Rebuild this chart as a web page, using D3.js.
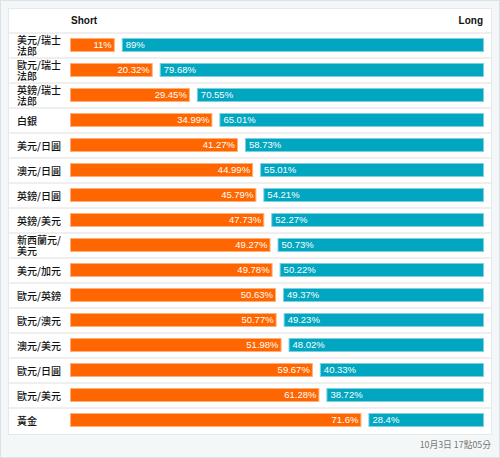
<!DOCTYPE html>
<html>
<head>
<meta charset="utf-8">
<script src="https://cdn.jsdelivr.net/npm/d3@7/dist/d3.min.js"></script>
<style>
  html, body { margin: 0; padding: 0; background: #ffffff; }
  svg { display: block; }
</style>
</head>
<body>
<svg id="chart" width="500" height="458"></svg>
<script>
const categories = ["美元/瑞士法郎","歐元/瑞士法郎","英鎊/瑞士法郎","白銀","美元/日圓","澳元/日圓","英鎊/日圓","英鎊/美元","新西蘭元/美元","美元/加元","歐元/英鎊","歐元/澳元","澳元/美元","歐元/日圓","歐元/美元","黃金"];
const shortPct = [11, 20.32, 29.45, 34.99, 41.27, 44.99, 45.79, 47.73, 49.27, 49.78, 50.63, 50.77, 51.98, 59.67, 61.28, 71.6];
const longPct  = [89, 79.68, 70.55, 65.01, 58.73, 55.01, 54.21, 52.27, 50.73, 50.22, 49.37, 49.23, 48.02, 40.33, 38.72, 28.4];
const headers = ["Short", "Long"];
const timestamp = "10月3日 17點05分";

const rows = categories.map((c, i) => ({ cat: c, s: shortPct[i], l: longPct[i] }));

const svg = d3.select("#chart");
const W = 500, H = 458;
const panel = { x: 8, y: 8, w: 484, h: 427 };
const headerH = 25;
const barX0 = 70, barX1 = 484, gap = 7, barH = 14;
const orange = "#ff6600", teal = "#01a6c0";
const cjk = "'Noto Sans CJK TC', 'Noto Sans CJK SC', sans-serif";
const latin = "Arial, 'Liberation Sans', Helvetica, sans-serif";

// page background
svg.append("rect").attr("x", 0.5).attr("y", 0.5).attr("width", W - 1).attr("height", H - 1)
  .attr("fill", "#f4f7f8").attr("stroke", "#dce3e6");
svg.append("rect").attr("x", panel.x + 0.5).attr("y", panel.y + 0.5).attr("width", panel.w - 1).attr("height", panel.h - 1)
  .attr("fill", "#ffffff").attr("stroke", "#e4e9eb");

const y = d3.scaleBand().domain(d3.range(rows.length))
  .range([panel.y + headerH, panel.y + headerH + 25 * rows.length]).paddingInner(0).paddingOuter(0);
const x = d3.scaleLinear().domain([0, 100]).range([0, (barX1 - barX0) - gap]);

// header
svg.append("text").attr("x", 71).attr("y", 24).attr("font-family", latin).attr("font-size", 10)
  .attr("font-weight", "bold").attr("fill", "#111").text(headers[0]);
svg.append("text").attr("x", 483).attr("y", 24).attr("text-anchor", "end").attr("font-family", latin)
  .attr("font-size", 10).attr("font-weight", "bold").attr("fill", "#111").text(headers[1]);

// separators
svg.append("g").selectAll("rect").data(d3.range(rows.length)).join("rect")
  .attr("x", panel.x + 1).attr("width", panel.w - 2)
  .attr("y", i => y(i) - 1).attr("height", 2).attr("fill", "#efefef");

const g = svg.append("g").selectAll("g").data(rows).join("g")
  .attr("transform", (d, i) => `translate(0,${y(i)})`);

// category labels with wrapping
g.each(function(d) {
  const sel = d3.select(this);
  const t = sel.append("text").attr("x", 17).attr("font-family", cjk).attr("font-size", 10)
    .attr("font-weight", 500).attr("fill", "#111");
  const chars = Array.from(d.cat);
  const lines = [];
  let cur = "";
  const probe = t.append("tspan");
  chars.forEach(ch => {
    probe.text(cur + ch);
    if (probe.node().getComputedTextLength() > 48 && cur.length) { lines.push(cur); cur = ch; }
    else cur = cur + ch;
  });
  lines.push(cur);
  probe.remove();
  t.remove();
  const lh = 10.6;
  const mid = y.bandwidth() / 2 + 0.5;
  const firstBase = mid + 3.6 - (lines.length - 1) * lh / 2;
  lines.forEach((ln, k) => {
    sel.append("text").attr("x", 17).attr("y", firstBase + k * lh)
      .attr("font-family", cjk).attr("font-size", 10).attr("font-weight", 500)
      .attr("fill", "#111").text(ln);
  });
});

const barY = (y.bandwidth() - barH) / 2 - 0.5;

// short bars
g.append("rect").attr("x", barX0 + 0.5).attr("y", barY + 0.5)
  .attr("width", d => x(d.s) - 1).attr("height", barH - 1)
  .attr("fill", orange).attr("stroke", "#ffb07a").attr("stroke-width", 1);
g.append("text").attr("x", d => barX0 + x(d.s) - 3).attr("y", barY + 10.3)
  .attr("text-anchor", "end").attr("font-family", latin).attr("font-size", 9.5)
  .attr("fill", "#ffffff").text(d => d.s + "%");

// long bars
g.append("rect").attr("x", d => barX0 + x(d.s) + gap + 0.5).attr("y", barY + 0.5)
  .attr("width", d => x(d.l) - 1).attr("height", barH - 1)
  .attr("fill", teal).attr("stroke", "#7fd0dd").attr("stroke-width", 1);
g.append("text").attr("x", d => barX0 + x(d.s) + gap + 4).attr("y", barY + 10.3)
  .attr("font-family", latin).attr("font-size", 9.5)
  .attr("fill", "#ffffff").text(d => d.l + "%");

// timestamp
svg.append("text").attr("x", 491).attr("y", 447.5).attr("text-anchor", "end")
  .attr("font-family", cjk).attr("font-size", 8.8).attr("fill", "#777").text(timestamp);
</script>
</body>
</html>
